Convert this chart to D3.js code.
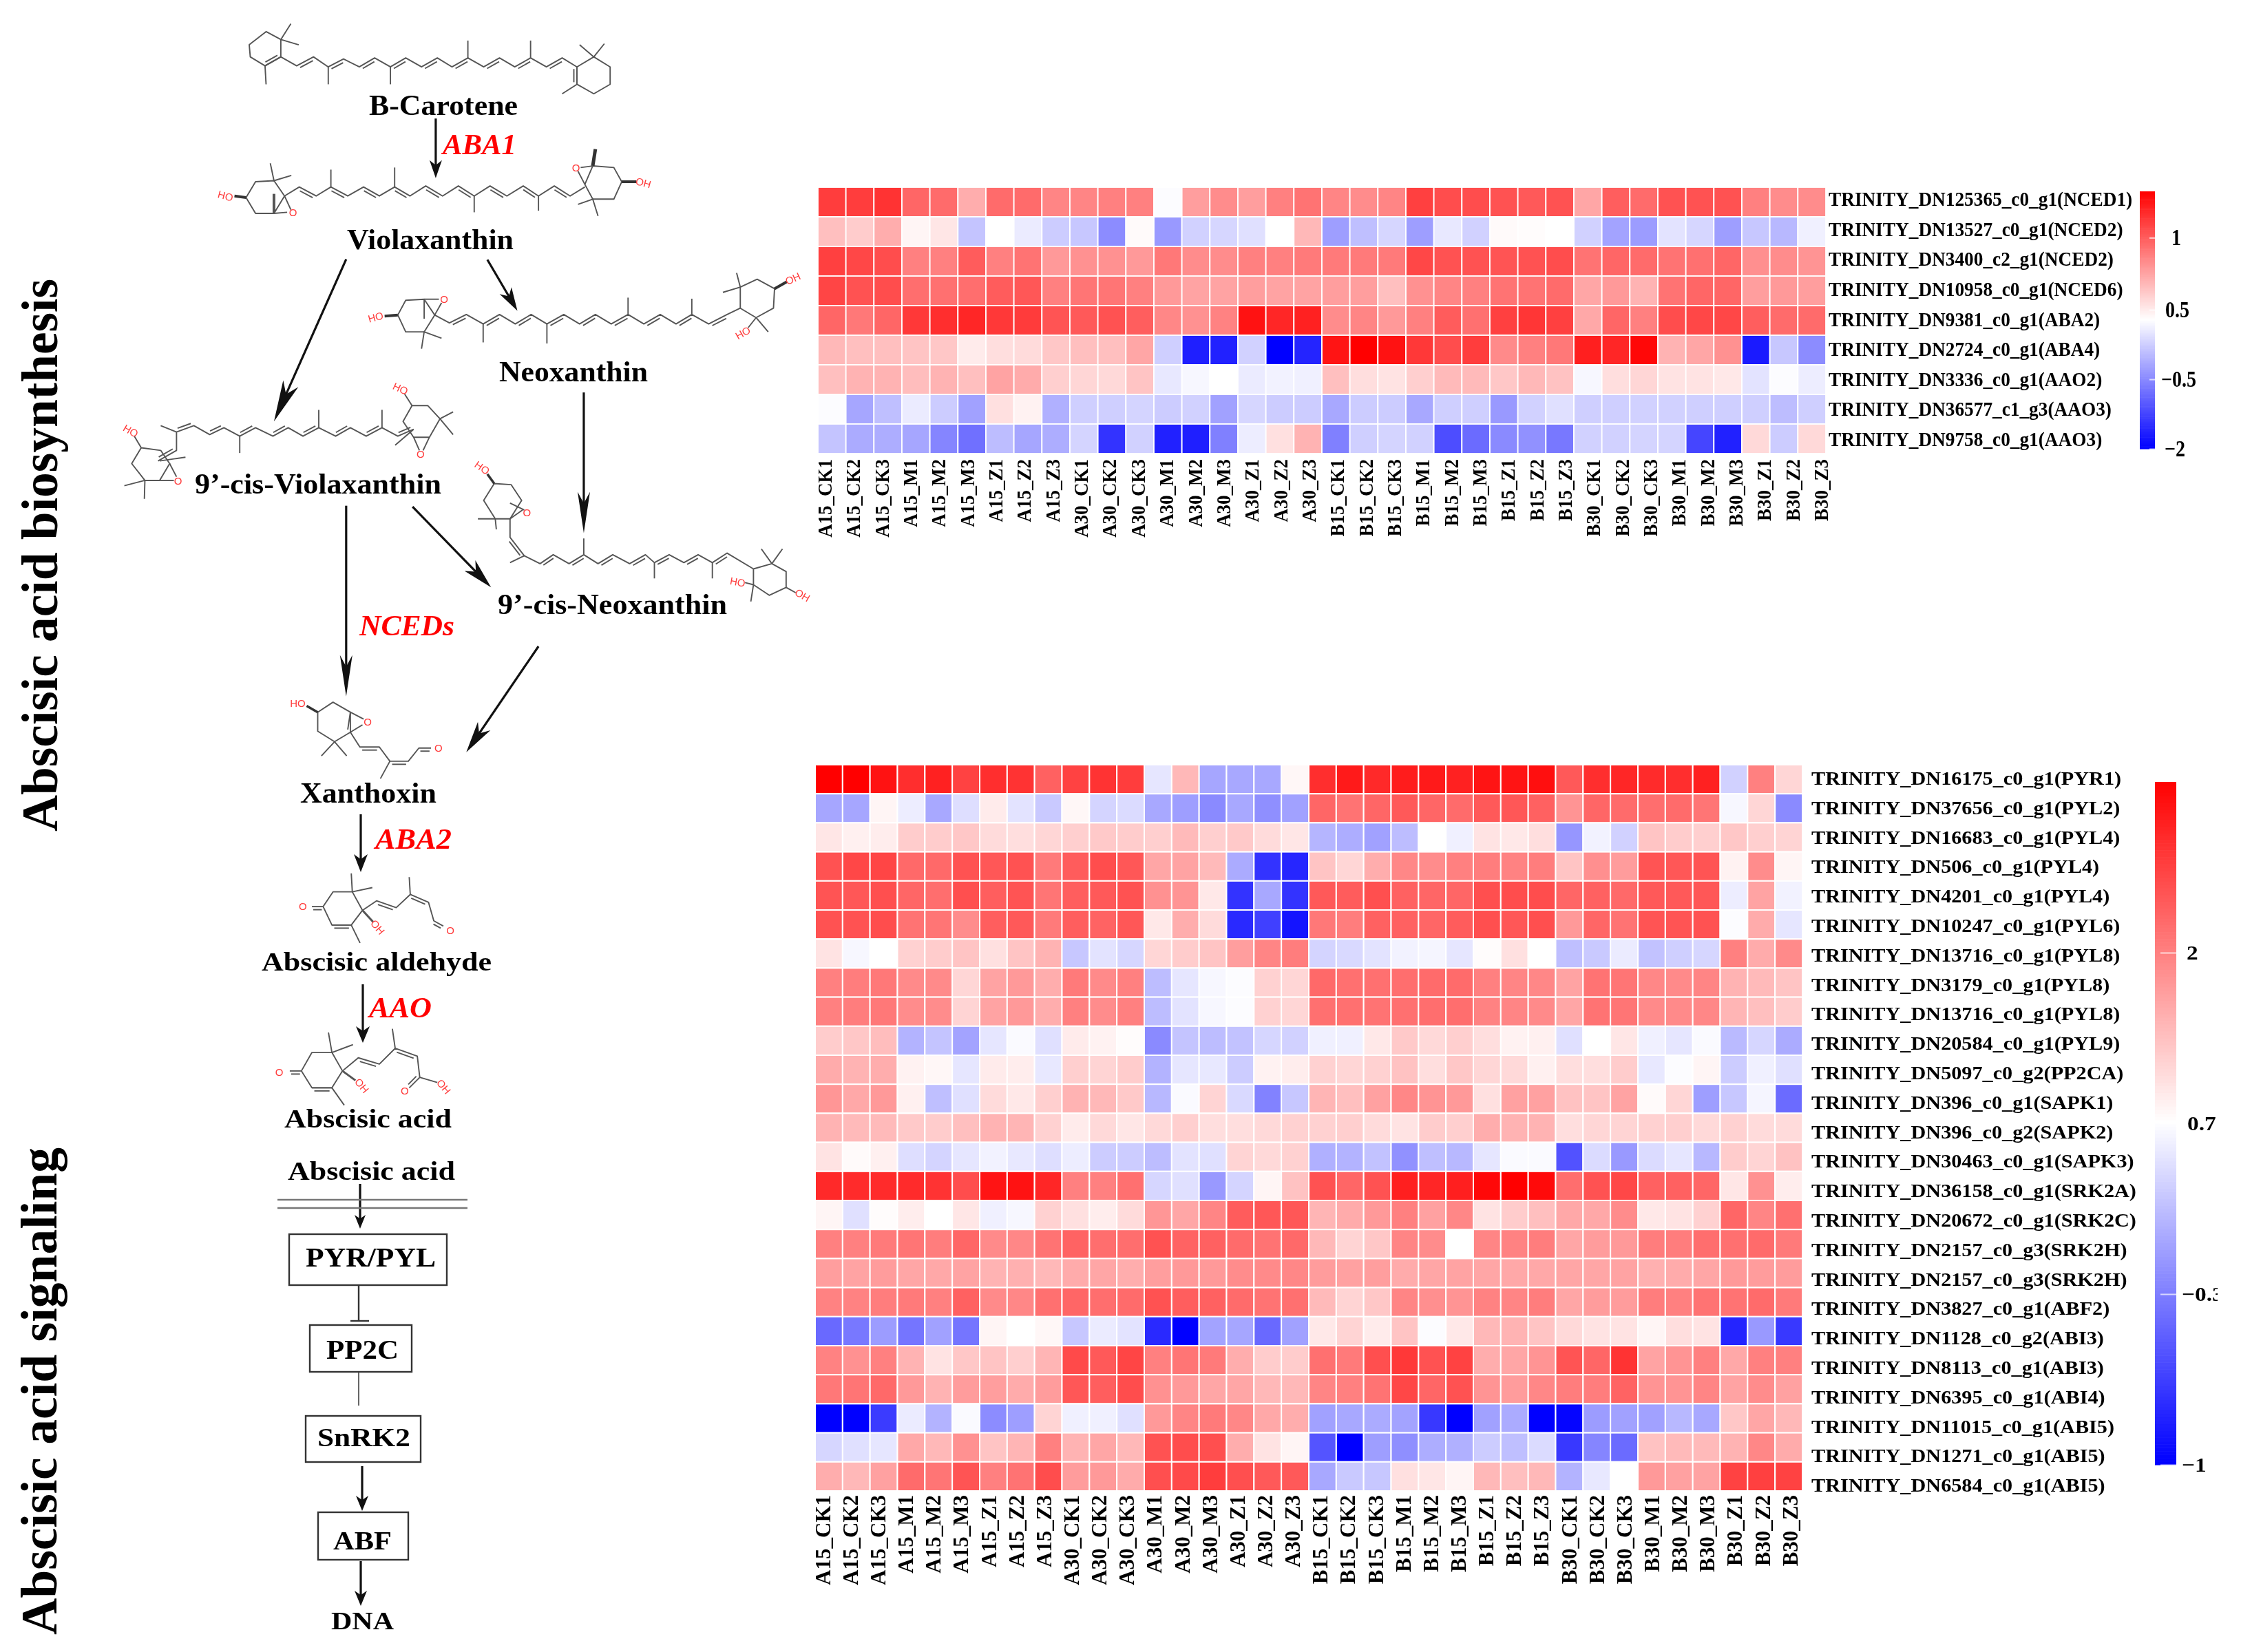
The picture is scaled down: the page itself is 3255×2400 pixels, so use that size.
<!DOCTYPE html>
<html><head><meta charset="utf-8">
<script src="https://cdnjs.cloudflare.com/ajax/libs/d3/7.8.5/d3.min.js"></script>
<style>html,body{margin:0;background:#fff}svg{display:block;filter:blur(.55px)}text{font-family:"Liberation Serif",serif;font-weight:bold;fill:#000}</style>
</head><body><svg id="c" width="3255" height="2400"></svg>
<script>
// Sample labels shared by both heat maps
const groups = ["A15","A30","B15","B30"];
const treatments = ["CK1","CK2","CK3","M1","M2","M3","Z1","Z2","Z3"];
const samples = groups.flatMap(g => treatments.map(t => g + "_" + t));

// Heat map values are colour-bar levels: -10 full blue, 0 white, +10 full red
const topGenes = ["TRINITY_DN125365_c0_g1(NCED1)","TRINITY_DN13527_c0_g1(NCED2)","TRINITY_DN3400_c2_g1(NCED2)","TRINITY_DN10958_c0_g1(NCED6)","TRINITY_DN9381_c0_g1(ABA2)","TRINITY_DN2724_c0_g1(ABA4)","TRINITY_DN3336_c0_g1(AAO2)","TRINITY_DN36577_c1_g3(AAO3)","TRINITY_DN9758_c0_g1(AAO3)"];
const topLevels = [
[7.6,7.6,8,6,5.8,3.2,5.8,5.8,4.8,4.8,5,5,-.1,3.8,4.5,3.8,5,5.5,4.8,4.5,4.8,7.5,7,7,6.8,6.5,6.8,3.5,6.3,5.8,6.8,6.8,6.8,5,4.5,4.5],
[2.5,2,3.2,.4,1,-2.3,0,-.8,-2,-2.2,-4.5,.2,-4,-1.8,-1.6,-1.2,0,2.8,-3.8,-2.5,-1.6,-3.8,-.9,-1.8,.2,.1,0,-1.8,-3.6,-3.9,-1.1,-1.6,-3.8,-2.2,-2.8,-.6],
[7.5,7.2,7,5,5,6.4,5,5.5,4,4.3,4.3,4,5.3,4.5,4.5,5,5,5.2,5.2,5.2,5.2,7.2,6.8,6.8,6.7,6.8,7,5.5,6,5.8,5.5,5.6,6,4.4,4.5,4.2],
[7.3,6.8,7,5.7,5.6,5.7,6.4,6.6,5,5.4,5.4,5,4,3.6,3.6,3.8,3.6,3.6,3.8,3.8,2.5,4.3,4.8,5,5.5,5.5,5.8,3.5,4,3,5.5,6,6,3.8,4,3.8],
[6,5.3,6,7.8,8.2,8.5,7.8,7.7,6.7,6.5,6.8,6.3,4.7,4.3,4.9,9.3,8.5,8.7,4.5,4.8,4,5,6.4,5.6,7.5,7.9,7.5,3.4,6,5,7,7.2,7.2,6.3,5.8,5.8],
[2.8,2.5,2.5,2.3,2.2,.8,1.3,1.4,2.2,2.5,2.5,3.5,-1.9,-8.8,-8.7,-1.8,-10,-8.6,9.2,10,9.3,7.8,7,7.6,4.6,5,5.3,8.8,8.5,9.7,3,3.5,4.3,-9,-2.2,-4.5],
[2.5,3,3,2.6,3,2.5,3.6,3.3,1.9,1.6,1.5,2.3,-.9,-.3,0,-.8,-.5,-.6,2.5,1.3,1.1,1.9,2.7,2.7,2.2,2.8,2.4,-.3,1.3,1.6,1.1,1.1,.9,-1.1,-.1,-.7],
[-.1,-3.5,-2.5,-.8,-2,-3.7,1.2,.5,-3.1,-1.9,-1.9,-1.7,-2,-1.8,-3.7,-1.6,-2,-2,-3.4,-2,-2,-3.4,-1.9,-1.9,-4,-1.8,-1.2,-1.9,-1.9,-1.8,-1.8,-1.9,-1.9,-1.9,-2.6,-1.9],
[-2.3,-3.3,-3.2,-3.5,-4.8,-5.6,-2.6,-3.5,-3.2,-1.7,-8,-1.8,-8.7,-8.8,-5,-.7,1.2,3,-5,-1.9,-1.7,-1.8,-7,-5.8,-4.6,-4.3,-5.3,-1.8,-1.8,-1.7,-1.7,-7.3,-8.7,1.5,-2,1.5]];
const topTickLevels = [-10,-4.6,.8,6.4];
const topTickLabels = ["\u22122","\u22120.5","0.5","1"];

const bottomGenes = ["TRINITY_DN16175_c0_g1(PYR1)","TRINITY_DN37656_c0_g1(PYL2)","TRINITY_DN16683_c0_g1(PYL4)","TRINITY_DN506_c0_g1(PYL4)","TRINITY_DN4201_c0_g1(PYL4)","TRINITY_DN10247_c0_g1(PYL6)","TRINITY_DN13716_c0_g1(PYL8)","TRINITY_DN3179_c0_g1(PYL8)","TRINITY_DN13716_c0_g1(PYL8)","TRINITY_DN20584_c0_g1(PYL9)","TRINITY_DN5097_c0_g2(PP2CA)","TRINITY_DN396_c0_g1(SAPK1)","TRINITY_DN396_c0_g2(SAPK2)","TRINITY_DN30463_c0_g1(SAPK3)","TRINITY_DN36158_c0_g1(SRK2A)","TRINITY_DN20672_c0_g1(SRK2C)","TRINITY_DN2157_c0_g3(SRK2H)","TRINITY_DN2157_c0_g3(SRK2H)","TRINITY_DN3827_c0_g1(ABF2)","TRINITY_DN1128_c0_g2(ABI3)","TRINITY_DN8113_c0_g1(ABI3)","TRINITY_DN6395_c0_g1(ABI4)","TRINITY_DN11015_c0_g1(ABI5)","TRINITY_DN1271_c0_g1(ABI5)","TRINITY_DN6584_c0_g1(ABI5)"];
const bottomLevels = [
[10,10,9.3,8.2,8.7,7.4,8.2,8,6.2,7.4,8,7.6,-1,2.8,-3.5,-3.4,-3.4,.3,8.2,9,8.4,8.9,9,8.7,9.2,9.2,9.4,6.5,8.2,8.5,8.3,8.2,8.7,-1.8,5,1.6],
[-3.5,-3.5,.4,-.7,-3.4,-1.3,.8,-1.1,-2.1,.3,-1.7,-1.4,-3.4,-3.8,-4.6,-3.4,-4.4,-3.7,6,5.5,6,6.5,6,5.8,6.5,6.6,6.2,4.2,6,5.8,5.7,5.8,5.4,-.3,1.6,-4.6],
[1,.6,.7,2,2,2.2,1.4,1.3,1.6,1.9,2.1,2,1.9,2.7,1.9,2.1,1.4,1,-2.9,-3.2,-3.7,-2.6,0,-.6,1.1,.9,1.3,-4.1,-.5,-1.8,2.3,2,1.9,2.2,1.9,1.7],
[6.8,7.2,7.3,5.9,5.9,6.8,6.6,6.8,5.2,6.4,7,6.6,3.5,3.6,2.7,-3.3,-8,-8.5,2.3,1.6,3.2,4.7,4.5,5,5.1,4.9,5.1,2.3,4.4,3.9,6.7,6.6,6.7,.5,4.5,.4],
[6.7,6.6,6.9,6,5.7,6.9,6.3,6.7,5.4,6.3,6.5,6.8,4.3,4.2,.9,-8,-3.4,-8,6.5,6.4,6.9,6.2,6,6,6.9,7,7,6,6.2,5.9,6.5,6.5,6.6,-.7,3.6,-.5],
[6.8,6.8,7,5.5,5.4,4.5,6.3,6.5,5.2,6.3,6.1,6.6,.9,3.2,1.4,-8.4,-7.5,-9.2,5.3,5.1,6.2,6.2,6,6.4,6.9,6.6,6.9,4,6,5.5,6.7,6.7,6.8,-.1,3.3,-1],
[1.1,-.3,0,1.8,2,2.3,1.2,2.3,3,-2.2,-1.1,-1.6,1.6,2,2.3,3.8,4.8,5.1,-1.7,-1.5,-1.1,-.5,-.4,-1,.1,1.2,0,-2.5,-2.1,-.8,-2.4,-1.9,-1.6,5,3.3,4.6],
[5,5.1,5.3,4.6,4.6,1.6,3.6,4,3.2,5.2,4.6,5,-2.6,-1,-.3,-.1,1.8,1.6,5.9,5.6,5.6,5.7,5.8,5.8,5,4.8,4.7,3.6,5.5,5.4,4.7,4.6,4.8,3,2.7,2.3],
[5,5.1,5.3,4.5,4.5,1.7,3.6,4,3.2,5,4.5,5,-2.6,-1.1,-.3,-.1,1.8,1.6,5.6,5.6,5.5,5.6,5.7,5.7,4.9,4.8,4.6,3.5,5.5,5.4,4.6,4.6,4.7,2.9,2.5,2],
[2,2.2,2.6,-3,-2.3,-3.6,-1,-.2,-1.2,.8,.5,.1,-4.6,-2.3,-2.6,-2.4,-1.6,-1.8,-.6,-.6,.9,2.1,1.5,1.9,1.3,.5,.6,-1.2,0,1,-.6,-1,-.2,-2.7,-1.6,-3.3],
[3.3,3,3.2,.5,.3,-1,.8,.7,-.9,1.9,1.7,2,-3,-1,-.9,-2,.5,.7,1.8,1.6,1.8,2.4,1.3,2.2,1.6,1.5,.6,1.3,1.3,2,-.9,-.1,.4,-2,-.6,-1.2],
[4.1,3.4,4,.6,-2.5,-1.2,1.4,.9,1.9,3,2.8,2.1,-2.8,-.2,1.7,-1.5,-4.9,-2.2,2.9,2.5,3.7,4.7,4.2,4,1.2,3.7,3.7,2.4,2.3,3.6,.2,1.6,-3.8,-2.2,-.4,-5.8],
[3,2.7,2.7,2.1,2,2.5,3,2.9,1.8,.8,1.5,1,1.5,1.9,1.3,1.3,1.5,1.8,1.8,1.9,1.4,1.1,2,1.9,3.2,3,3,1.3,1.6,1.7,1.8,1.9,1.5,1.8,1.4,1.4],
[1.1,.2,.6,-1.3,-1.7,-1,-.5,-.9,-1.3,-.7,-2,-2,-2.6,-1.1,-1.2,1.7,1.5,1.8,-3.1,-3,-2.4,-4.3,-2.5,-2.8,-1,-.2,-.2,-6.8,-1.4,-4,-1.4,-1,-2.8,2,1.7,2.4],
[8.4,8.3,8.3,8.3,8,7,9.2,9.3,8.5,5,5,5.6,-1.6,-1.2,-4,-1.7,.4,2.4,6.8,6,6.8,8.8,8.5,8.8,9.7,10,9.6,5.7,6.8,7.2,6.2,6.2,6,1,4.3,.7],
[.4,-1.2,.1,.7,0,1,-.6,-.3,1.8,1.2,.7,1.4,4.1,3.5,4.8,6.4,6.6,6.6,2.9,3.3,4,5,3.7,4.7,1.1,2,2.5,3.4,3.4,4.5,.9,1.1,1.8,6,4.8,5.6],
[5,5,5.2,5.4,5.1,6,4.6,4.7,5.5,6.1,5.7,5.7,6.8,6.1,6.2,5.8,5.5,5.9,2.8,1.7,2.2,4.8,4.5,0,4.8,4.9,5.1,3.5,3.9,4,5.1,5.1,5.7,5.6,5.8,5.2],
[3.8,3.6,3.9,3.5,3.4,3.6,3,3.1,2.8,3.3,3.5,3.2,3.8,4,4,4.5,4.6,4.7,3.9,3.7,3.8,3.3,3.5,3.6,3.5,3.4,3.4,3.5,3.5,3.6,3.1,3.3,3.5,4,3.9,3.9],
[4.9,4.9,5.1,5.2,5,6.2,4.6,4.7,5.6,6,5.7,5.8,6.8,6.3,6.2,5.8,5.5,5.6,2.7,1.7,2.2,4.8,4.4,4.2,4.9,4.8,5.1,3.5,3.9,3.9,5.1,5,5.5,5.5,5.8,5.2],
[-5.9,-5.3,-3.9,-5.4,-3.7,-5.4,.4,0,.3,-2.2,-.8,-1.1,-8.4,-10,-3.6,-3.5,-5.9,-3.7,.9,1.7,.8,2.3,-.1,.9,2.8,3,2.3,1.5,1.1,1.1,.4,1.3,1.1,-8.6,-4,-7.8],
[4.9,4.3,5,3,1.1,2.2,2.3,1.9,2.9,7.1,6.5,7.3,5,5.4,5.2,3.2,2,2,5.6,5.2,6.9,7.8,6.8,7.4,3.2,3.5,4.2,6.7,6,8,3.6,4.2,5,3.4,5,5],
[5.3,5.4,5.9,4,3,3.9,3.8,3.3,3.9,6.6,6.3,7,4.3,4,3.5,3.5,2.8,2.8,4.8,5,5.5,7.2,6,6.8,4.2,3.9,4.7,5.1,5.1,6.1,4.2,4.2,4.8,3.6,4.5,3.7],
[-10,-10,-7.7,-.8,-3,-.2,-4.5,-3.8,1.7,-.6,-.6,-1.2,4,4.8,5.2,4.7,3.4,3.2,-3.7,-3.4,-3.3,-3.6,-7.8,-10,-3.7,-3.3,-10,-9.8,-3.9,-3.7,-3.7,-2.8,-3.4,2.2,3.5,2.8],
[-1.6,-1.2,-1,3.4,2.8,4.3,2.3,2.9,5,3,3.5,2.8,6.8,7,6.9,3.2,1.1,.4,-6.7,-10,-3.8,-4.4,-3.2,-3.1,-2,-2.5,-1.4,-7.8,-4.8,-5.8,2.4,2.7,2.7,3,4.7,3.3],
[3.2,2.8,3.7,5.8,5.4,6.7,5,5.5,7,3.9,4,3.3,6.9,7.1,7.6,6.9,6.5,6.5,-3.4,-2.1,-2.2,1.2,1,.4,2.8,2.5,2.8,-3,-.9,0,4,3.7,3.6,7.4,7.5,7.4]];
const bottomTickLevels = [-10,-5,0,5];
const bottomTickLabels = ["\u22121","\u22120.3","0.7","2"];

const svg = d3.select("#c");
const colour = d3.scaleLinear().domain([-10,0,10]).range(["#0000ff","#ffffff","#ff0000"]);

function heatmap(cfg){
  const g = svg.append("g");
  const x = d3.scaleBand().domain(samples).range(cfg.cellX);
  const y = d3.scaleBand().domain(d3.range(cfg.genes.length)).range(cfg.cellY);
  cfg.levels.forEach((row,r)=>{
    g.selectAll(null).data(row).join("rect")
      .attr("x",(d,i)=>x(samples[i])).attr("y",y(r))
      .attr("width",x.bandwidth()).attr("height",y.bandwidth())
      .attr("fill",d=>colour(d)).attr("stroke","#fff").attr("stroke-width",cfg.gap);
  });
  // column labels
  const xl = d3.scalePoint().domain(samples).range(cfg.colLabelX);
  const ax = g.append("g").attr("transform",`translate(0,${cfg.colLabelY})`).call(d3.axisBottom(xl).tickSize(0).tickPadding(0));
  ax.select(".domain").remove();
  ax.selectAll("text").attr("font-size",cfg.colFont).attr("text-anchor","end").attr("y",0).attr("dy",0)
    .attr("transform",`rotate(-90) scale(${cfg.colStretch},1) translate(0,${cfg.colFont*.33})`);
  // row labels
  const yl = d3.scaleBand().domain(d3.range(cfg.genes.length)).range(cfg.rowLabelY);
  const ay = g.append("g").attr("transform",`translate(${cfg.rowLabelX},0)`).call(d3.axisRight(yl).tickSize(0).tickPadding(0).tickFormat(i=>cfg.genes[i]));
  ay.select(".domain").remove();
  ay.selectAll("text").attr("font-size",cfg.rowFont).attr("text-anchor","start").attr("x",0)
    .attr("transform",`scale(${cfg.rowStretch},1)`);
  // colour bar
  const s = d3.scaleLinear().domain([-10,10]).range(cfg.barY);
  g.selectAll(null).data(d3.range(-10,10,.1)).join("rect")
    .attr("x",cfg.barX[0]).attr("width",cfg.barX[1]-cfg.barX[0])
    .attr("y",d=>s(d+.1)).attr("height",d=>s(d)-s(d+.1)+.6).attr("fill",d=>colour(d));
  const al = g.append("g").attr("transform",`translate(${cfg.barX[1]},0)`)
    .call(d3.axisRight(s).tickValues(cfg.tickLevels).tickSizeInner(-cfg.tickLen).tickSizeOuter(0).tickPadding(0)
      .tickFormat((d,i)=>cfg.tickLabels[i]));
  al.select(".domain").remove();
  al.selectAll("line").attr("stroke","#fff").attr("stroke-opacity",.7).attr("stroke-width",2);
  al.selectAll("text").attr("font-size",cfg.barFont).attr("text-anchor","start").attr("x",0)
    .attr("transform",(d,i)=>`translate(${cfg.barLabelX[i]-cfg.barX[1]},0) scale(${cfg.barStretch},1)`);
}

heatmap({genes:topGenes,levels:topLevels,cellX:[1188,2652],cellY:[272,659],gap:1.8,
  colLabelX:[1198,2645],colLabelY:667,colFont:29,colStretch:.93,
  rowLabelX:2656,rowLabelY:[268,660],rowFont:30,rowStretch:.91,
  barX:[3108,3130],barY:[652,278],tickLen:8,tickLevels:topTickLevels,tickLabels:topTickLabels,barFont:33,barStretch:.85,barLabelX:[3144,3139,3145,3154]});

heatmap({genes:bottomGenes,levels:bottomLevels,cellX:[1184,2618],cellY:[1111,2166],gap:2,
  colLabelX:[1195,2600],colLabelY:2172,colFont:31,colStretch:1,
  rowLabelX:2631,rowLabelY:[1110,2180],rowFont:27,rowStretch:1.12,
  barX:[3130,3161],barY:[2128,1136],tickLen:23,tickLevels:bottomTickLevels,tickLabels:bottomTickLabels,barFont:29,barStretch:1.15,barLabelX:[3169,3169,3177,3176]});
// The reference crops the "-0.3" label at the edge of its picture
svg.append("rect").attr("x",3221).attr("y",1840).attr("width",34).attr("height",70).attr("fill","#fff");

// ---- pathway schematic: zoom-derived drawing helpers
const A=(x,y)=>[x*.7653,y*.7653], B=(x,y)=>[x*.5102,1200+y*.7653];
const pw = svg.append("g");
const BOND="#555";
function poly(T,f,w,c){
  const p=[];for(let i=0;i<f.length;i+=2)p.push(T(f[i],f[i+1]));
  pw.append("path").attr("d",d3.line()(p)).attr("fill","none").attr("stroke",c||BOND).attr("stroke-width",w||1.9).attr("stroke-linejoin","round");
}
function chain(T,f,par,side){
  poly(T,f);
  const n=f.length/2;
  for(let i=0;i<n-1;i++){
    if(i%2!==par)continue;
    const [x1,y1]=T(f[2*i],f[2*i+1]),[x2,y2]=T(f[2*i+2],f[2*i+3]);
    const dx=x2-x1,dy=y2-y1,l=Math.hypot(dx,dy),ox=-dy/l*4.5*(side||1),oy=dx/l*4.5*(side||1);
    pw.append("line").attr("x1",x1+dx*.12+ox).attr("y1",y1+dy*.12+oy).attr("x2",x2-dx*.12+ox).attr("y2",y2-dy*.12+oy)
      .attr("stroke",BOND).attr("stroke-width",1.9);
  }
}
function atom(T,s,x,y,rot){
  const [a,b]=T(x,y);
  pw.append("text").text(s).attr("transform",`translate(${a},${b}) rotate(${rot||0})`)
    .attr("text-anchor","middle").attr("dy",".35em").attr("font-size",15).style("fill","#ff3b3b").style("font-weight","normal").style("font-family","Liberation Sans");
}
// beta-carotene
poly(A,[533,75,505,60,473,85,475,108,503,125,533,108,533,75]);poly(A,[552,45,533,75,567,85]);poly(A,[503,125,505,160]);chain(A,[533,108,503,125],0,1);
chain(A,[533,108,563,125,595,108,623,127,652,112,682,127,711,110,741,127,770,110,800,127,830,110,858,127,888,110,918,127,948,110,977,127,1007,110,1037,127,1067,110,1095,127],1,1);
[[623,127,623,160],[741,127,741,160],[888,110,888,77],[1007,110,1007,77]].forEach(m=>poly(A,m));
poly(A,[1095,127,1127,108,1158,127,1158,160,1127,178,1095,160,1095,127]);chain(A,[1095,127,1095,160],0,1);poly(A,[1100,85,1127,108,1147,83]);poly(A,[1095,160,1067,178]);
// violaxanthin
poly(A,[467,375,485,345,520,343,540,372,520,405,485,405,467,375]);poly(A,[513,310,520,343,553,333]);poly(A,[540,372,552,398]);poly(A,[520,405,545,403]);poly(A,[520,405,520,368],4);poly(A,[467,375,445,372],4,"#333");atom(A,"HO",428,372,15);atom(A,"O",556,404);
chain(A,[540,372,568,355,600,372,628,355,660,372,690,355,720,372,749,355,778,372,808,353,840,372,870,353,900,372,930,353,962,372,993,353,1022,372,1052,353,1082,372,1110,355],1,1);
[[628,355,628,322],[749,355,749,318],[900,372,900,403],[1022,372,1022,400]].forEach(m=>poly(A,m));
poly(A,[1110,350,1125,315,1165,318,1180,345,1165,378,1125,378,1110,350]);poly(A,[1097,388,1125,378,1135,410]);poly(A,[1125,315,1130,283],5,"#333");poly(A,[1110,350,1097,325]);poly(A,[1125,315,1102,318]);poly(A,[1180,345,1208,345],4,"#333");atom(A,"O",1093,318);atom(A,"OH",1221,347,15);
// neoxanthin
poly(A,[755,598,770,570,805,568,825,598,805,630,770,630,755,598]);poly(A,[800,662,805,630,838,642]);poly(A,[825,598,838,575]);poly(A,[805,568,833,568]);poly(A,[805,568,805,605]);poly(A,[755,598,730,600],4,"#333");atom(A,"HO",713,602,-15);atom(A,"O",843,568);
chain(A,[825,598,853,613,885,597,917,615,948,597,978,615,1008,597,1038,615,1070,597,1100,615,1130,597,1160,615,1192,597,1222,615,1253,597,1283,615,1313,597,1345,615,1380,597,1405,585],1,1);
[[917,615,917,650],[1038,615,1038,652],[1192,597,1192,565],[1313,597,1313,567]].forEach(m=>poly(A,m));
poly(A,[1405,585,1405,545,1437,530,1470,548,1468,585,1435,603,1405,585]);poly(A,[1372,555,1405,545,1398,518]);poly(A,[1470,548,1493,535],4,"#333");atom(A,"OH",1505,529,-25);poly(A,[1435,603,1458,630]);poly(A,[1435,603,1420,622]);atom(A,"HO",1410,632,-30);
// 9'-cis-violaxanthin
poly(A,[268,850,250,880,275,912,303,912,322,880,305,855,268,850]);poly(A,[236,922,275,912,274,947]);poly(A,[268,850,255,828]);atom(A,"HO",248,818,30);atom(A,"O",338,913);poly(A,[303,912,330,912]);poly(A,[322,880,335,905]);poly(A,[303,875,352,868]);
chain(A,[300,875,335,855,335,820,368,808,398,825,425,812,455,828,485,812,518,828,547,812,575,828,605,812,637,828,665,812,695,828,725,812,755,828,785,815],0,-1);
[[335,820,305,808],[455,828,455,860],[605,812,605,778],[725,812,725,778]].forEach(m=>poly(A,m));
poly(A,[782,770,765,800,785,830,815,830,835,795,812,770,782,770]);poly(A,[860,782,835,795,860,825]);poly(A,[782,770,768,748]);atom(A,"HO",760,738,25);poly(A,[785,815,750,845]);poly(A,[785,830,796,855]);poly(A,[815,830,803,855]);atom(A,"O",798,862);
// 9'-cis-neoxanthin
poly(A,[938,918,918,950,940,985,968,985,990,950,970,920,938,918]);poly(A,[907,985,940,985,942,1005]);poly(A,[938,918,925,900],3.5,"#333");atom(A,"HO",915,888,35);atom(A,"O",1000,973);poly(A,[968,985,992,968]);poly(A,[968,955,995,968]);
chain(A,[968,985,968,1020,995,1055,1025,1070,1050,1053,1080,1070,1108,1053,1135,1070,1163,1053,1195,1070,1225,1053,1242,1068,1270,1053,1298,1068,1325,1053,1352,1068,1380,1050,1430,1080],1,1);
[[995,1055,968,1068],[1108,1053,1108,1022],[1242,1068,1242,1098],[1352,1068,1352,1098]].forEach(m=>poly(A,m));
poly(A,[1430,1080,1465,1070,1492,1085,1492,1115,1460,1130,1430,1110,1430,1080]);poly(A,[1445,1042,1465,1070,1485,1042]);poly(A,[1430,1110,1414,1106]);poly(A,[1430,1110,1425,1142]);poly(A,[1492,1115,1510,1125]);atom(A,"HO",1400,1105,10);atom(A,"OH",1523,1130,30);
// xanthoxin
poly(A,[603,1352,632,1333,665,1352,665,1390,635,1408,603,1388,603,1352]);poly(A,[610,1435,635,1408,658,1435]);poly(A,[603,1352,582,1340],3.5,"#333");atom(A,"HO",565,1335);poly(A,[665,1352,690,1365]);poly(A,[665,1390,688,1376]);atom(A,"O",698,1370);poly(A,[665,1352,660,1385]);
chain(A,[665,1390,683,1418,720,1418,740,1445,775,1445,795,1420,818,1420],1,1);poly(A,[740,1445,722,1478]);atom(A,"O",832,1420);
// abscisic aldehyde
poly(B,[920,153,948,125,1003,125,1032,160,1000,188,945,188,920,153]);chain(B,[1000,188,945,188],0,-1);chain(B,[888,153,920,153],0,1);atom(B,"O",862,152);poly(B,[1000,90,1003,125,1060,117]);poly(B,[1000,188,1025,222]);poly(B,[1032,160,1062,182],3);atom(B,"OH",1075,192,50);
chain(B,[1032,160,1072,142,1128,155,1168,130,1220,145,1235,180,1262,190],1,1);poly(B,[1168,130,1165,97]);atom(B,"O",1282,198);
// abscisic acid
poly(B,[858,465,888,430,945,430,975,465,945,497,888,497,858,465]);chain(B,[945,497,888,497],0,-1);chain(B,[825,465,858,465],0,1);atom(B,"O",795,467);poly(B,[935,392,945,430,1005,415]);poly(B,[945,497,980,530]);poly(B,[975,465,1012,483],3);atom(B,"OH",1030,493,50);
chain(B,[975,465,1020,440,1080,452,1125,422,1188,437,1195,477],1,1);chain(B,[1195,477,1165,497],0,1);atom(B,"O",1152,503);poly(B,[1195,477,1245,487]);atom(B,"OH",1263,495,50);poly(B,[1125,422,1117,385]);

// arrows
function arrow(p,q,len,w){
  const d=Math.hypot(q[0]-p[0],q[1]-p[1]),ux=(q[0]-p[0])/d,uy=(q[1]-p[1])/d,nx=-uy,ny=ux;
  pw.append("line").attr("x1",p[0]).attr("y1",p[1]).attr("x2",q[0]-ux*len*.6).attr("y2",q[1]-uy*len*.6).attr("stroke","#111").attr("stroke-width",3.2);
  const tip=q,b1=[q[0]-ux*len+nx*w/2,q[1]-uy*len+ny*w/2],b2=[q[0]-ux*len-nx*w/2,q[1]-uy*len-ny*w/2],m=[q[0]-ux*len*.72,q[1]-uy*len*.72];
  pw.append("path").attr("d",d3.line()([tip,b1,m,b2])+"Z").attr("fill","#111");
}
arrow(A(827,225),A(827,338),26,18);
arrow(A(657,492),A(520,800),60,24);
arrow(A(925,493),A(982,590),34,20);
arrow(A(1108,745),A(1108,1012),60,18);
arrow(A(657,960),A(657,1322),60,18);
arrow(A(783,962),A(932,1115),44,22);
arrow(A(1022,1227),A(885,1428),46,22);
arrow([524,1183],[524,1267],26,20);
arrow([527,1430],[527,1515],24,20);
arrow([523,1720],[523,1785],20,16);
arrow([526,2130],[526,2195],22,18);
arrow([524,2268],[524,2333],22,18);

// membrane, boxes and connectors
[[1743],[1755]].forEach(([y])=>pw.append("line").attr("x1",403).attr("x2",679).attr("y1",y).attr("y2",y).attr("stroke","#777").attr("stroke-width",2.4));
[[420,649,1793,1867],[450,598,1925,1993],[444,611,2057,2124],[462,593,2197,2266]].forEach(b=>
  pw.append("rect").attr("x",b[0]).attr("y",b[2]).attr("width",b[1]-b[0]).attr("height",b[3]-b[2]).attr("fill","none").attr("stroke","#333").attr("stroke-width",2.4));
pw.append("line").attr("x1",521).attr("x2",521).attr("y1",1867).attr("y2",1919).attr("stroke","#333").attr("stroke-width",2.4);
pw.append("line").attr("x1",509).attr("x2",536).attr("y1",1919).attr("y2",1919).attr("stroke","#333").attr("stroke-width",2.4);
pw.append("line").attr("x1",521).attr("x2",521).attr("y1",1994).attr("y2",2042).attr("stroke","#666").attr("stroke-width",2);

// labels: text, left, right, centre y, size, colour, italic
const labels=[["B-Carotene",536,752,153,43],["Violaxanthin",504,746,348,43],["Neoxanthin",725,941,540,43],["9\u2019-cis-Violaxanthin",283,641,703,43],["9\u2019-cis-Neoxanthin",723,1056,878,43],["Xanthoxin",436,634,1152,43],
["ABA1",643,750,210,42,"#ff0000",1],["NCEDs",522,660,909,42,"#ff0000",1],["ABA2",545,656,1219,42,"#ff0000",1],["AAO",536,627,1464,42,"#ff0000",1],
["Abscisic aldehyde",380,714,1397,38],["Abscisic acid",413,656,1625,38],["Abscisic acid",418,661,1701,38],
["PYR/PYL",444,633,1827,39],["PP2C",474,579,1961,39],["SnRK2",461,596,2088,38],["ABF",484,569,2238,38],["DNA",481,572,2355,36]];
labels.forEach(l=>{
  const t=pw.append("text").text(l[0]).attr("x",l[1]).attr("y",l[3]).attr("dy",".33em").attr("font-size",l[4])
    .attr("textLength",l[2]-l[1]).attr("lengthAdjust","spacingAndGlyphs");
  if(l[5])t.style("fill",l[5]).style("font-style","italic");
});
[["Abscisic acid biosynthesis",405,1208,83],["Abscisic acid signaling",1667,2375,82]].forEach(l=>{
  pw.append("text").text(l[0]).attr("font-size",75).attr("textLength",l[2]-l[1]).attr("lengthAdjust","spacingAndGlyphs")
    .attr("transform",`translate(${l[3]},${l[2]}) rotate(-90)`);
});
</script></body></html>
